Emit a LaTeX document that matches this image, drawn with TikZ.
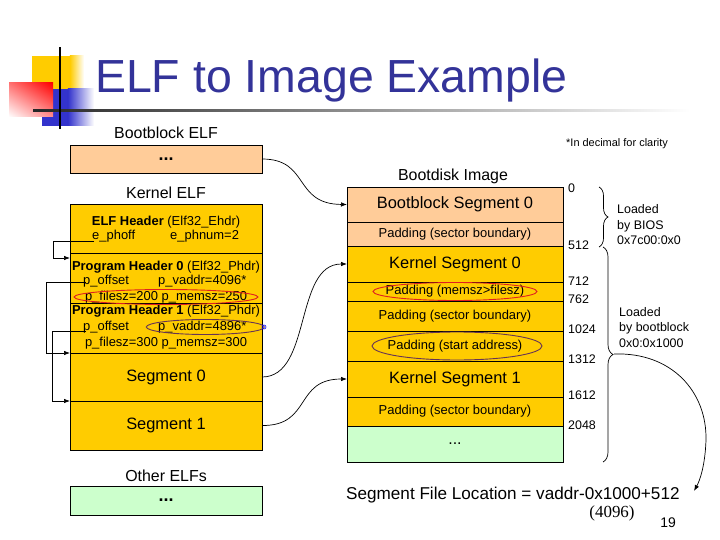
\documentclass[tikz,border=0pt]{standalone}
\usepackage{fontspec}
\setmainfont{Liberation Sans}
\newfontfamily\numserif{Liberation Serif}
\usetikzlibrary{arrows.meta,decorations.pathreplacing,shapes.geometric,shadings}
\definecolor{peach}{HTML}{FFCC99}
\definecolor{gold}{HTML}{FFCC00}
\definecolor{mint}{HTML}{CCFFCC}
\definecolor{titleblue}{HTML}{333399}
\definecolor{ellred}{HTML}{E02020}
\definecolor{ellplum}{HTML}{663355}
\definecolor{decoyellow}{HTML}{FFCC00}
\definecolor{decoblue}{HTML}{3333CC}
\begin{document}
\begin{tikzpicture}[x=1bp,y=-1bp,
  cell/.style={draw=black, line width=0.8bp, anchor=north west, inner sep=0pt, outer sep=0pt},
  lcell/.style={cell, minimum width=192bp},
  mcell/.style={cell, minimum width=216bp},
  big/.style={font=\fontsize{16.5}{19}\selectfont},
  pad/.style={font=\fontsize{13}{15}\selectfont},
  dots/.style={font=\bfseries\fontsize{18}{20}\selectfont},
  sm/.style={inner sep=0pt, font=\fontsize{13}{15}\selectfont},
  caption/.style={inner sep=0pt, font=\fontsize{16}{19}\selectfont},
  note/.style={inner sep=0pt, anchor=base west, font=\fontsize{12.5}{15}\selectfont},
  conn/.style={line width=0.7bp, -{Latex[length=6bp,width=4.5bp]}},
  brace/.style={line width=0.7bp, decorate, decoration={brace, amplitude=#1}},
  ring/.style={line width=0.9bp}
]
\useasboundingbox (0,0) rectangle (720,540);
\fill[white] (0,0) rectangle (720,540);

% ---- title decoration ----
\fill[decoyellow] (32,56) rectangle (70,90);
\shade[left color=decoyellow, right color=white] (69.9,56) rectangle (84,90);
\fill[decoblue] (42,89) rectangle (68,126);
\shade[left color=decoblue, right color=white] (67.9,89) rectangle (94,126);
\shade[upper right=red, upper left=red!55!white, lower right=red!45!white, lower left=white] (9,83) rectangle (53,117);
\shade[left color=black!85, right color=white] (33,110) rectangle (690,112);
\fill[black] (59,47) rectangle (61,129);
\node[anchor=base west, inner sep=0pt, text=titleblue, font=\fontsize{46.6}{50}\selectfont] (title) at (95,93) {ELF to Image Example};

% ---- left column ----
\node[caption] (lbb) at (166,133) {Bootblock ELF};
\node[lcell, fill=peach, minimum height=28bp, dots] (bbelf) at (70,145) {...};
\node[caption] (lker) at (166,193) {Kernel ELF};
\node[lcell, fill=gold, minimum height=49bp] (ehdr) at (70,204) {};
\node[lcell, fill=gold, minimum height=50bp] (ph0) at (70,253) {};
\node[lcell, fill=gold, minimum height=50bp] (ph1) at (70,303) {};
\node[lcell, fill=gold, minimum height=48bp, big] (seg0) at (70,353) {Segment 0};
\node[lcell, fill=gold, minimum height=49bp, big] (seg1) at (70,401) {Segment 1};
\node[caption] (loth) at (166,476) {Other ELFs};
\node[lcell, fill=mint, minimum height=29bp, dots] (oelf) at (70,486) {...};

\node[sm] (ehdrt) at (166,222) {\textbf{ELF Header} (Elf32\_Ehdr)};
\node[sm, anchor=west] (ephoff) at (92,236) {e\_phoff};
\node[sm, anchor=west] (ephnum) at (170,236) {e\_phnum=2};
\node[sm] (ph0t) at (166,267) {\textbf{Program Header 0} (Elf32\_Phdr)};
\node[sm, anchor=west] (poff0) at (83,281) {p\_offset};
\node[sm, anchor=west] (pva0) at (158,281) {p\_vaddr=4096*};
\node[sm] (pfs0) at (166,297) {p\_filesz=200 p\_memsz=250};
\node[sm] (ph1t) at (166,311) {\textbf{Program Header 1} (Elf32\_Phdr)};
\node[sm, anchor=west] (poff1) at (83,327) {p\_offset};
\node[sm, anchor=west] (pva1) at (158,327) {p\_vaddr=4896*};
\node[sm] (pfs1) at (166,343) {p\_filesz=300 p\_memsz=300};

\draw[ring, ellred] (pfs0.center) ellipse [x radius=92, y radius=7.5];
\draw[ring, ellplum] ([xshift=3bp]pva1.center) ellipse [x radius=59, y radius=7.5];
\draw[line width=0.6bp, blue] (264,327) circle [radius=2];

% header connectors
\coordinate (s1) at (94,241);
\coordinate (hp0) at (70,258);
\draw[conn] (s1) -- (53,241) -- (53,258) -- (hp0);
\coordinate (s2) at (86,282);
\draw[conn] (s2) -- (46,282) -- (46,353) -- (seg0.north west);
\coordinate (s3) at (86,331);
\draw[conn] (s3) -- (52,331) -- (52,401) -- (seg1.north west);

% ---- middle column ----
\node[caption] (lbd) at (453,176) {Bootdisk Image};
\node[mcell, fill=peach, minimum height=35bp, big] (bbseg) at (347,187) {Bootblock Segment 0};
\node[mcell, fill=peach, minimum height=24bp, pad] (pad1) at (347,222) {Padding (sector boundary)};
\node[mcell, fill=gold, minimum height=36bp, big] (kseg0) at (347,246) {Kernel Segment 0};
\node[mcell, fill=gold, minimum height=19bp, pad] (padm) at (347,282) {Padding (memsz>filesz)};
\node[mcell, fill=gold, minimum height=30bp, pad] (pad2) at (347,301) {Padding (sector boundary)};
\node[mcell, fill=gold, minimum height=30bp, pad] (pads) at (347,331) {Padding (start address)};
\node[mcell, fill=gold, minimum height=36bp, big] (kseg1) at (347,361) {Kernel Segment 1};
\node[mcell, fill=gold, minimum height=29bp, pad] (pad3) at (347,397) {Padding (sector boundary)};
\node[mcell, fill=mint, minimum height=36bp, text depth=-4bp, font=\fontsize{16}{18}\selectfont] (more) at (347,426) {...};

\draw[ring, ellred] (padm.center) ellipse [x radius=82, y radius=9];
\draw[ring, ellplum] ([xshift=2bp]pads.center) ellipse [x radius=85, y radius=14];

% segment connectors
\draw[conn] (bbelf.east) .. controls (310,159) and (293,204) .. (bbseg.west);
\draw[conn] (seg0.east) .. controls (312,377) and (294,264) .. (kseg0.west);
\draw[conn] (seg1.east) .. controls (312,426) and (294,379) .. (kseg1.west);

% ---- right annotations ----
\node[inner sep=0pt, anchor=base west, font=\fontsize{11}{13}\selectfont] (clar) at (566,147) {*In decimal for clarity};
\node[note] (o0) at (568,193) {0};
\node[note] (o512) at (568,250) {512};
\node[note] (o712) at (568,286) {712};
\node[note] (o762) at (568,303) {762};
\node[note] (o1024) at (568,333) {1024};
\node[note] (o1312) at (568,363) {1312};
\node[note] (o1612) at (568,399) {1612};
\node[note] (o2048) at (568,429) {2048};

\draw[brace=9bp] (599,187) -- (599,247);
\draw[brace=10bp] (603,247) -- (603,462);
\coordinate (btip) at (614,354);

\node[note] (l1a) at (617,214) {Loaded};
\node[note] (l1b) at (617,230) {by BIOS};
\node[note] (l1c) at (617,245) {0x7c00:0x0};
\node[note] (l2a) at (619,316) {Loaded};
\node[note] (l2b) at (619,331) {by bootblock};
\node[note] (l2c) at (619,347) {0x0:0x1000};

% ---- formula ----
\node[inner sep=0pt, anchor=base west, font=\fontsize{17.2}{19}\selectfont] (formula) at (346,499) {Segment File Location = vaddr-0x1000+512};
\node[inner sep=0pt, anchor=base, font=\numserif\fontsize{17}{19}\selectfont] (hex) at (612,517) {(4096)};
\node[inner sep=0pt, anchor=base, font=\fontsize{14}{16}\selectfont] (pg) at (668,527) {19};
\coordinate (fend) at (694,491);
\draw[conn] (btip) .. controls (672,352) and (707,392) .. (706,440) .. controls (705,468) and (699,482) .. (fend);
\end{tikzpicture}
\end{document}
